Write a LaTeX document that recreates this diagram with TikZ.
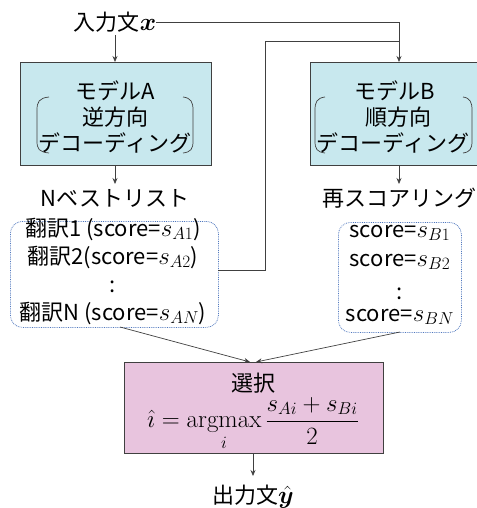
\documentclass[tikz,border=0pt]{standalone}
\usepackage{amsmath}
\usepackage{bm}
\usepackage{fontspec}
\setmainfont{Noto Sans CJK JP}
\newfontfamily\lmrfont{Latin Modern Roman}
\newcommand{\mymathbig}[1]{{\fontsize{25}{26}\selectfont$#1$}}
\usetikzlibrary{arrows.meta}
\definecolor{bluefill}{RGB}{200,232,238}
\definecolor{pinkfill}{RGB}{232,196,222}
\definecolor{edge}{RGB}{64,64,64}
\definecolor{dotblue}{RGB}{80,120,190}
\tikzset{
  modelbox/.style={draw=edge, line width=1.1pt, fill=bluefill, anchor=north west, inner sep=0pt},
  selbox/.style={draw=edge, line width=1.1pt, fill=pinkfill, anchor=north west, inner sep=0pt},
  listbox/.style={draw=dotblue, densely dotted, line width=0.8pt, rounded corners=12pt, anchor=north west, inner sep=0pt},
  txt/.style={font=\fontsize{22}{26}\selectfont, inner sep=0pt},
  conn/.style={draw=edge, line width=0.7pt},
  arr/.style={conn, -{Stealth[length=6pt,width=5pt]}},
  paren/.style={draw=edge, line width=0.7pt},
}
\begin{document}
\begin{tikzpicture}[x=1pt,y=-1pt]
\useasboundingbox (0,0) rectangle (476,508);
% boxes
\node[modelbox, minimum width=191pt, minimum height=103pt] (boxA) at (20,62) {};
\node[modelbox, minimum width=170pt, minimum height=103pt] (boxB) at (310,62) {};
\node[listbox, minimum width=208pt, minimum height=106pt] (listA) at (10,221) {};
\node[listbox, minimum width=123pt, minimum height=110pt] (listB) at (338,222) {};
\node[selbox, minimum width=259pt, minimum height=91pt] (sel) at (124,362) {};
% parens
\draw[paren] (49,97) .. controls (39,98) and (37,102) .. (37,110) -- (37,141) .. controls (37,149) and (39,152) .. (49,153);
\draw[paren] (183,97) .. controls (191,98) and (193,102) .. (193,110) -- (193,141) .. controls (193,149) and (191,152) .. (183,153);
\draw[paren] (325,97) .. controls (317,98) and (315,102) .. (315,110) -- (315,141) .. controls (315,149) and (317,152) .. (325,153);
\draw[paren] (463,97) .. controls (470,98) and (472,102) .. (472,110) -- (472,141) .. controls (472,149) and (470,152) .. (463,153);
% texts
\node[txt] (in) at (115,22) {入力文\mymathbig{\bm{x}}};
\node[txt] (a1) at (115,91) {モデルA};
\node[txt] (a2) at (115,117) {逆方向};
\node[txt] (a3) at (115,143) {デコーディング};
\node[txt] (b1) at (395,91) {モデルB};
\node[txt] (b2) at (398,117) {順方向};
\node[txt] (b3) at (393,143) {デコーディング};
\node[txt] (nbest) at (115,198) {Nベストリスト};
\node[txt] (resc) at (399,198) {再スコアリング};
\node[txt] (l1) at (113,229) {翻訳1 (score=\mymathbig{s_{A1}})};
\node[txt] (l2) at (113,257) {翻訳2(score=\mymathbig{s_{A2}})};
\node[txt] (l3) at (113,287) {:};
\node[txt] (l4) at (113,313) {翻訳N (score=\mymathbig{s_{AN}})};
\node[txt] (r1) at (400,233) {score=\mymathbig{s_{B1}}};
\node[txt] (r2) at (400,262) {score=\mymathbig{s_{B2}}};
\node[txt] (r3) at (400,294) {:};
\node[txt] (r4) at (400,317) {score=\mymathbig{s_{BN}}};
\node[txt] (s1) at (253,383) {選択};
\node[txt, font=\fontsize{25}{28}\selectfont] (s2) at (253,424) {$\displaystyle\hat{\imath}=\mathop{\text{\lmrfont argmax}}\limits_{i}\frac{s_{Ai}+s_{Bi}}{2}$};
\node[txt] (out) at (253,497) {出力文\mymathbig{\hat{\bm{y}}}};
% connectors
\coordinate (bTop) at (399,62);
\coordinate (aTop) at (115,62);
\coordinate (aBot) at (115,165);
\coordinate (bBot) at (399,165);
\coordinate (nbTop) at (115,184);
\coordinate (rsTop) at (399,184);
\coordinate (listAR) at (218,270);
\coordinate (listABot) at (120,327);
\coordinate (listBBot) at (400,332);
\coordinate (selTopL) at (250,362);
\coordinate (selTopR) at (256,362);
\coordinate (selBot) at (253,453);
\coordinate (outTop) at (253,476);
\draw[arr] (in.south |- 0,35) -- (aTop);
\draw[arr] (in.east) -| (bTop);
\draw[conn] (listAR) -- (265,270) -- (265,41) -- (399,41);
\draw[arr] (aBot) -- (nbTop);
\draw[arr] (bBot) -- (rsTop);
\draw[arr] (listABot) -- (selTopL);
\draw[arr] (listBBot) -- (selTopR);
\draw[arr] (selBot) -- (outTop);
\end{tikzpicture}
\end{document}
